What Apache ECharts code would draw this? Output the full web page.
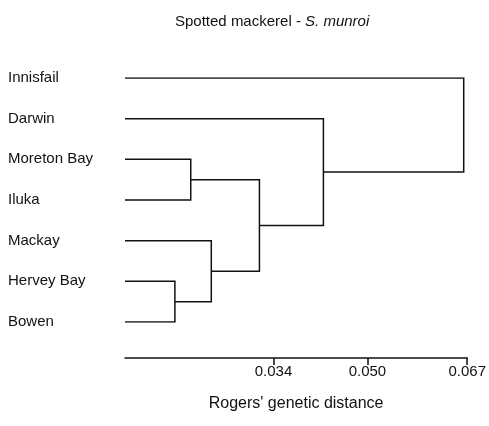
<!DOCTYPE html>
<html>
<head>
<meta charset="utf-8">
<script src="https://cdn.jsdelivr.net/npm/echarts@6/dist/echarts.min.js"></script>
<style>
  html, body { margin: 0; padding: 0; background: #fff; }
  #chart { width: 489px; height: 426px; }
</style>
</head>
<body>
<div id="chart"></div>
<script>
// leaves, top to bottom
var leafNames = ["Innisfail", "Darwin", "Moreton Bay", "Iluka", "Mackay", "Hervey Bay", "Bowen"];
// merges: children index (0-6 leaves, 7+ earlier merges) and joining distance
var mergeLeft = [5, 2, 4, 8, 1, 0];
var mergeRight = [6, 3, 7, 9, 10, 11];
var mergeHeight = [0.0172, 0.0199, 0.0234, 0.0316, 0.0425, 0.0664];
var leafBase = 0.0087; // where the leaf branches start on the axis
var tickValues = [0.034, 0.050, 0.067];

var FONT = "Liberation Sans, Arial, Helvetica, sans-serif";
var INK = "#111";

// node positions (x = distance, y = row)
var nodeX = [], nodeY = [];
for (var i = 0; i < leafNames.length; i++) {
  nodeX.push(leafBase);
  nodeY.push(i);
}
var branches = [];
for (var m = 0; m < mergeHeight.length; m++) {
  var a = mergeLeft[m], b = mergeRight[m], h = mergeHeight[m];
  branches.push({
    coords: [[nodeX[a], nodeY[a]], [h, nodeY[a]], [h, nodeY[b]], [nodeX[b], nodeY[b]]]
  });
  nodeX.push(h);
  nodeY.push((nodeY[a] + nodeY[b]) / 2);
}

var chart = echarts.init(document.getElementById("chart"));
var option = {
  backgroundColor: "#fff",
  animation: false,
  title: {
    text: "{a|Spotted mackerel - }{b|S. munroi}",
    left: 170,
    top: 9,
    textStyle: {
      fontWeight: "normal",
      rich: {
        a: { fontFamily: FONT, fontSize: 15, fontWeight: "normal", color: INK },
        b: { fontFamily: FONT, fontSize: 15, fontWeight: "normal", color: INK, fontStyle: "italic" }
      }
    }
  },
  grid: { left: 125, right: 19.5, top: 78, bottom: 104 },
  xAxis: {
    type: "value",
    position: "bottom",
    min: leafBase,
    max: 0.067,
    offset: 36,
    name: "Rogers' genetic distance",
    nameLocation: "middle",
    nameGap: 38,
    nameTextStyle: { fontFamily: FONT, fontSize: 16, color: INK },
    axisLine: { show: true, onZero: false, lineStyle: { color: INK, width: 1.5 } },
    axisTick: { show: true, customValues: tickValues, length: 7, lineStyle: { color: INK, width: 1.5 } },
    axisLabel: {
      customValues: tickValues,
      margin: 6,
      fontFamily: FONT,
      fontSize: 15,
      color: INK,
      formatter: function (v) { return v.toFixed(3); }
    },
    splitLine: { show: false }
  },
  yAxis: {
    type: "value",
    min: 0,
    max: leafNames.length - 1,
    inverse: true,
    axisLine: { show: false, onZero: false },
    axisTick: { show: false },
    splitLine: { show: false },
    axisLabel: {
      customValues: leafNames.map(function (n, i) { return i; }),
      align: "left",
      margin: 117,
      fontFamily: FONT,
      fontSize: 15,
      color: INK,
      formatter: function (v) { return leafNames[v]; }
    }
  },
  series: [
    {
      type: "lines",
      coordinateSystem: "cartesian2d",
      polyline: true,
      silent: true,
      lineStyle: { color: INK, width: 1.5, opacity: 1 },
      data: branches
    }
  ]
};
chart.setOption(option);
</script>
</body>
</html>
